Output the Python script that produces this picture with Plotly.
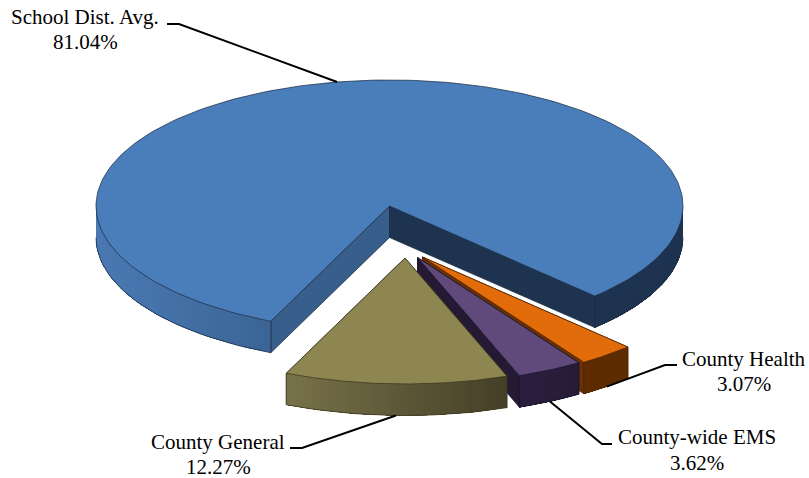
import numpy as np
import plotly.graph_objects as go

# ---- chart data (clockwise from the first slice) ----
categories = ["County Health", "County-wide EMS", "County General", "School Dist. Avg."]
values = [3.07, 3.62, 12.27, 81.04]
value_labels = ["3.07%", "3.62%", "12.27%", "81.04%"]

# ---- styling / geometry ----
W, H = 809, 478
RX, RY, DEPTH = 293.5, 126, 31.5
START = 45.6
apex = {"County Health": (422.5, 257), "County-wide EMS": (417.5, 257.5),
        "County General": (405, 258), "School Dist. Avg.": (389.5, 206)}
top_col = {"County Health": "#e26b0a", "County-wide EMS": "#604a7b",
           "County General": "#8e8651", "School Dist. Avg.": "#4a7ebb"}
edge_col = {"County Health": "#4a2300", "County-wide EMS": "#1c1428",
            "County General": "#3c3820", "School Dist. Avg.": "#1b2c44"}
start_face = {"County Health": "#5f2c02", "County-wide EMS": "#241a33",
              "County General": "#4a4429", "School Dist. Avg.": "#385e8c"}
end_face = {"County Health": "#6a3204", "County-wide EMS": "#241a33",
            "County General": "#4a4429", "School Dist. Avg.": "#1e3350"}
# wall gradient: colour at the left end and at the right end of the visible wall
wall_grad = {"County Health": ("#5f2c02", "#5f2c02"), "County-wide EMS": ("#2a1f3e", "#271c38"),
             "County General": ("#787249", "#443f27")}
school_left = ("#4a79b3", "#3b6596")
school_right = ("#1e3350", "#1e3350")
# label centre x, y of the name line, y of the value line
label_pos = {"County Health": (744, 359, 384), "County-wide EMS": (697, 437, 463),
             "County General": (218, 442, 467), "School Dist. Avg.": (85, 17, 42)}
# horizontal run of each leader line
elbow = {"County Health": [(677, 365), (665, 365)], "County-wide EMS": [(612, 444), (602, 444)],
         "County General": [(290, 448), (302, 448)], "School Dist. Avg.": [(167, 24), (179, 24)]}

fig = go.Figure()


def hexmix(a, b, f):
    ca = [int(a[i:i + 2], 16) for i in (1, 3, 5)]
    cb = [int(b[i:i + 2], 16) for i in (1, 3, 5)]
    return "rgb(%d,%d,%d)" % tuple(round(x + (y - x) * f) for x, y in zip(ca, cb))


def poly(x, y, fill, line=None, lw=0.75):
    fig.add_trace(go.Scatter(x=list(x), y=list(y), mode="lines", fill="toself", fillcolor=fill,
                             line=dict(color=line or fill, width=lw), hoverinfo="skip", showlegend=False))


def stroke(x, y, color, lw=0.75):
    fig.add_trace(go.Scatter(x=list(x), y=list(y), mode="lines", line=dict(color=color, width=lw),
                             hoverinfo="skip", showlegend=False))


def rim(c, t):
    t = np.asarray(t, dtype=float)
    return c[0] + RX * np.cos(np.radians(t)), c[1] + RY * np.sin(np.radians(t))


def wall(c, t0, t1, colors, edge, n=40):
    ts = np.linspace(t0, t1, n + 1)
    xs, ys = rim(c, ts)
    xa, xb = xs.min(), xs.max()
    # each band runs to the far end of the wall, so no seams appear between bands
    for i in range(n):
        f = ((xs[i] + xs[i + 1]) / 2 - xa) / max(xb - xa, 1)
        col = hexmix(colors[0], colors[1], f)
        px = np.concatenate([xs[i:], xs[i:][::-1], xs[i:i + 1]])
        py = np.concatenate([ys[i:], (ys[i:] + DEPTH)[::-1], ys[i:i + 1]])
        poly(px, py, col, col, 0)
    stroke(xs, ys + DEPTH, edge)


def face(c, t, fill, edge):
    rx, ry = rim(c, t)
    poly([c[0], rx, rx, c[0], c[0]], [c[1], ry, ry + DEPTH, c[1] + DEPTH, c[1]], fill, edge)


# slice angles come from the values
total = sum(values)
spans = {}
a = START
for name, v in zip(categories, values):
    spans[name] = (a, a + v / total * 360)
    a = spans[name][1]

# back-to-front drawing: school first, then health, EMS, general
for name in [categories[3], categories[0], categories[1], categories[2]]:
    c = apex[name]
    t0, t1 = spans[name]
    edge = edge_col[name]
    face(c, t0, start_face[name], edge)
    face(c, t1, end_face[name], edge)
    if t1 > 360:  # the big slice wraps through 0 degrees
        wall(c, t0, 180, school_left, edge)
        wall(c, 0, t1 - 360, school_right, edge)
    else:
        wall(c, t0, t1, wall_grad[name], edge)
    for t in (t0, t1):
        rx, ry = rim(c, t)
        stroke([rx, rx], [ry, ry + DEPTH], edge)
    ts = np.linspace(t0, t1, 200)
    xs, ys = rim(c, ts)
    poly([c[0], *xs, c[0]], [c[1], *ys, c[1]], top_col[name], edge, 0.75)

# leader lines and labels
FONT = dict(family="Liberation Serif, Times New Roman, serif", size=21, color="black")
for name, vl in zip(categories, value_labels):
    c = apex[name]
    t0, t1 = spans[name]
    mid = (t0 + t1) / 2
    px, py = rim(c, mid)
    if np.sin(np.radians(mid)) > 0:
        py = py + DEPTH
    e = elbow[name]
    stroke([e[0][0], e[1][0], px], [e[0][1], e[1][1], py], "black", 2)
    lx, ly1, ly2 = label_pos[name]
    for txt, ly in ((name, ly1), (vl, ly2)):
        fig.add_annotation(x=lx, y=ly, text=txt, showarrow=False, font=FONT,
                           xanchor="center", yanchor="middle")

fig.update_layout(
    width=W, height=H, margin=dict(l=0, r=0, t=0, b=0), showlegend=False,
    paper_bgcolor="white", plot_bgcolor="white",
    xaxis=dict(range=[0, W], visible=False, fixedrange=True),
    yaxis=dict(range=[H, 0], visible=False, fixedrange=True),
)
fig.write_html("out.html", config={"displayModeBar": False},
               post_script="document.body.style.margin='0';document.body.style.overflow='hidden';")
